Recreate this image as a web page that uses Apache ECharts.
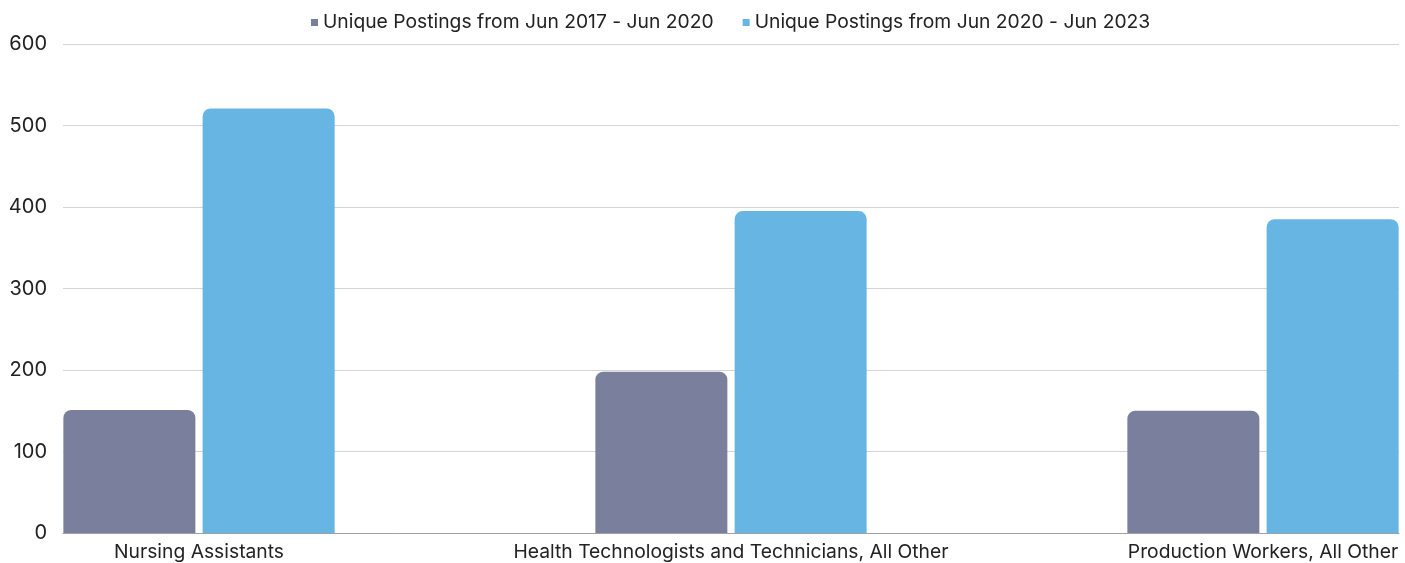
<!DOCTYPE html>
<html>
<head>
<meta charset="utf-8">
<script src="https://cdn.jsdelivr.net/npm/echarts@6/dist/echarts.min.js"></script>
<style>
html,body{margin:0;padding:0;background:#fff;}
#chart{width:1405px;height:563px;}
</style>
</head>
<body>
<div id="chart"></div>
<script>
const categories = ["Nursing Assistants", "Health Technologists and Technicians, All Other", "Production Workers, All Other"];
const seriesNames = ["Unique Postings from Jun 2017 - Jun 2020", "Unique Postings from Jun 2020 - Jun 2023"];
const postings2017to2020 = [151, 198, 150];
const postings2020to2023 = [521, 395, 385];
const yTicks = [0, 100, 200, 300, 400, 500, 600];

const FONT = 'Inter, "DejaVu Sans", sans-serif';
const chart = echarts.init(document.getElementById('chart'));
chart.setOption({
  animation: false,
  textStyle: { fontFamily: FONT },
  legend: {
    top: 8,
    left: 306,
    icon: 'rect',
    itemWidth: 7,
    itemHeight: 7,
    itemGap: 29,
    textStyle: { fontSize: 19.3, color: '#222', fontFamily: FONT },
    data: seriesNames
  },
  grid: [
    { left: 199, right: 142, top: 44, bottom: 30, containLabel: false },
    { left: 63, right: 6, top: 44, bottom: 30, containLabel: false }
  ],
  xAxis: [
    {
      gridIndex: 0,
      type: 'category',
      data: categories,
      boundaryGap: false,
      axisLine: { show: false },
      axisTick: { show: false },
      axisLabel: { fontSize: 19.3, color: '#222', margin: 10, interval: 0, fontFamily: FONT }
    },
    {
      gridIndex: 1,
      type: 'category',
      data: [''],
      axisLine: { show: true, lineStyle: { color: '#a0a0a0', width: 1 } },
      axisTick: { show: false },
      axisLabel: { show: false }
    }
  ],
  yAxis: [
    {
      gridIndex: 0,
      type: 'value',
      min: yTicks[0],
      max: yTicks[yTicks.length - 1],
      interval: 100,
      show: false,
      splitLine: { show: false }
    },
    {
      gridIndex: 1,
      type: 'value',
      min: yTicks[0],
      max: yTicks[yTicks.length - 1],
      interval: 100,
      axisLine: { show: false },
      axisTick: { show: false },
      axisLabel: { fontSize: 20, color: '#222', margin: 16, fontFamily: FONT },
      splitLine: { show: true, lineStyle: { color: '#d4d4d4', width: 1 } }
    }
  ],
  series: [
    {
      name: seriesNames[0],
      type: 'bar',
      xAxisIndex: 0,
      yAxisIndex: 0,
      data: postings2017to2020,
      barWidth: 132,
      barGap: '5.5%',
      itemStyle: { color: '#7a7f9e', borderRadius: [8, 8, 0, 0] }
    },
    {
      name: seriesNames[1],
      type: 'bar',
      xAxisIndex: 0,
      yAxisIndex: 0,
      data: postings2020to2023,
      barWidth: 132,
      barGap: '5.5%',
      itemStyle: { color: '#66b5e2', borderRadius: [8, 8, 0, 0] }
    }
  ]
});
</script>
</body>
</html>
